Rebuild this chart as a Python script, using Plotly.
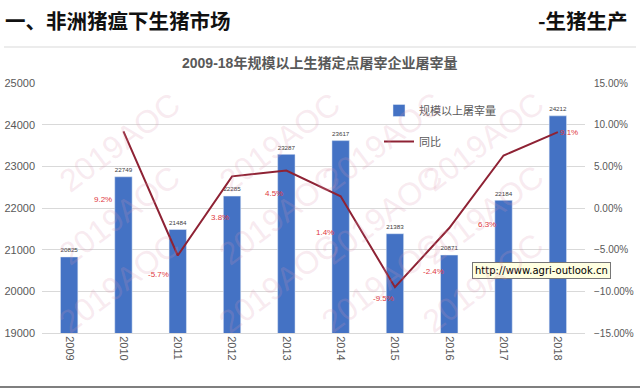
import plotly.graph_objects as go

years = ["2009", "2010", "2011", "2012", "2013", "2014", "2015", "2016", "2017", "2018"]
slaughter = [20825, 22749, 21484, 22285, 23287, 23617, 21383, 20871, 22184, 24212]
yoy_years = ["2010", "2011", "2012", "2013", "2014", "2015", "2016", "2017", "2018"]
yoy_pct = [9.2, -5.7, 3.8, 4.5, 1.4, -9.5, -2.4, 6.3, 9.1]

# label offsets (pixels) for the YoY labels, mimicking the original placement
label_dx = [-20, -19, -12, -12, -16, -11, -16, -17, 11]
label_dy = [68, 19, 41, 23, 36, 11, 43, 69, 0]

FONT = "Liberation Sans, Arial, Noto Sans CJK SC"
CJK = "Noto Sans CJK SC, Liberation Sans"
GRAY = "#595959"

L, R, T, B = 42, 55, 83, 56
PW = 640 - L - R
PH = 389 - T - B


def px(x):
    return (x - L) / PW


def py(y):
    return 1 - (y - T) / PH


fig = go.Figure()
fig.add_trace(go.Bar(
    x=years, y=slaughter, name="规模以上屠宰量",
    marker_color="#4472C4", width=0.32,
    text=[str(v) for v in slaughter], textposition="outside",
    textfont=dict(size=7.5, color="#404040", family=FONT),
    cliponaxis=False, legendgroup="a",
))
fig.add_trace(go.Scatter(
    x=yoy_years, y=[v / 100 for v in yoy_pct], name="同比", yaxis="y2",
    mode="lines", line=dict(color="#8E2234", width=2), legendgroup="b",
))

ann = []
for yr, v, dx, dy in zip(yoy_years, yoy_pct, label_dx, label_dy):
    ann.append(dict(x=years.index(yr), y=v / 100, yref="y2", xref="x", text=f"{v}%",
                    showarrow=False, xshift=dx, yshift=-dy,
                    font=dict(size=8, color="#E0393E", family=FONT)))

# header texts
ann.append(dict(xref="paper", yref="paper", x=px(3), y=py(20), xanchor="left", yanchor="middle",
                text="<b>一、非洲猪瘟下生猪市场</b>", showarrow=False,
                font=dict(size=20.5, color="#111111", family=CJK)))
ann.append(dict(xref="paper", yref="paper", x=px(630), y=py(20), xanchor="right", yanchor="middle",
                text="<b>-生猪生产</b>", showarrow=False,
                font=dict(size=20.5, color="#111111", family=CJK)))
# chart title
ann.append(dict(xref="paper", yref="paper", x=px(319), y=py(63), xanchor="center", yanchor="middle",
                text="<b>2009-18年规模以上生猪定点屠宰企业屠宰量</b>", showarrow=False,
                font=dict(size=14, color=GRAY, family=FONT)))
# tooltip box
ann.append(dict(xref="paper", yref="paper", x=px(541), y=py(270), xanchor="center", yanchor="middle",
                text="http://www.agri-outlook.cn", showarrow=False,
                font=dict(size=10, color="#000000", family="DejaVu Sans, Liberation Sans"),
                bgcolor="#FFFFE1", bordercolor="#767676", borderwidth=1, borderpad=2))

# watermarks
for wy in [82, 215, 343]:
    for wx in [50, 210, 382, 553]:
        ann.append(dict(xref="paper", yref="paper", x=px(wx), y=py(wy), text="2019AOC",
                        showarrow=False, textangle=-37,
                        font=dict(size=32, color="rgba(220,150,175,0.2)", family=FONT)))

shapes = [
    dict(type="line", xref="paper", yref="paper", x0=px(4), x1=px(636), y0=py(47), y1=py(47),
         line=dict(color="#D9D9D9", width=1)),
    dict(type="line", xref="paper", yref="paper", x0=px(0), x1=px(640), y0=py(387), y1=py(387),
         line=dict(color="#7F7F7F", width=2)),
]

fig.update_layout(
    width=640, height=389,
    margin=dict(l=L, r=R, t=T, b=B, autoexpand=False),
    paper_bgcolor="white", plot_bgcolor="white",
    showlegend=True,
    legend=dict(x=px(379), y=py(96), xanchor="left", yanchor="top",
                font=dict(size=11, color=GRAY, family=CJK),
                bgcolor="rgba(0,0,0,0)", tracegroupgap=12),
    xaxis=dict(type="category", categoryorder="array", categoryarray=years,
               range=[-0.5, 9.5], tickangle=90, automargin=False,
               tickfont=dict(size=11, color=GRAY, family=FONT),
               showgrid=False, showline=True, linecolor="#D9D9D9", ticks=""),
    yaxis=dict(range=[19000, 25000], dtick=1000, tickformat="d", automargin=False,
               tickfont=dict(size=11, color=GRAY, family=FONT), ticklabelstandoff=6,
               gridcolor="#D9D9D9", zeroline=False, ticks="", showline=False),
    yaxis2=dict(range=[-0.15, 0.15], dtick=0.05, tickformat=".2%", overlaying="y", side="right",
                tickfont=dict(size=10, color=GRAY, family=FONT), showgrid=False,
                automargin=False, ticklabelstandoff=8,
                zeroline=False, ticks=""),
    annotations=ann, shapes=shapes,
)

fig.write_html("out.html", config={"displayModeBar": False},
               post_script="document.body.style.margin='0';document.body.style.overflow='hidden';")
